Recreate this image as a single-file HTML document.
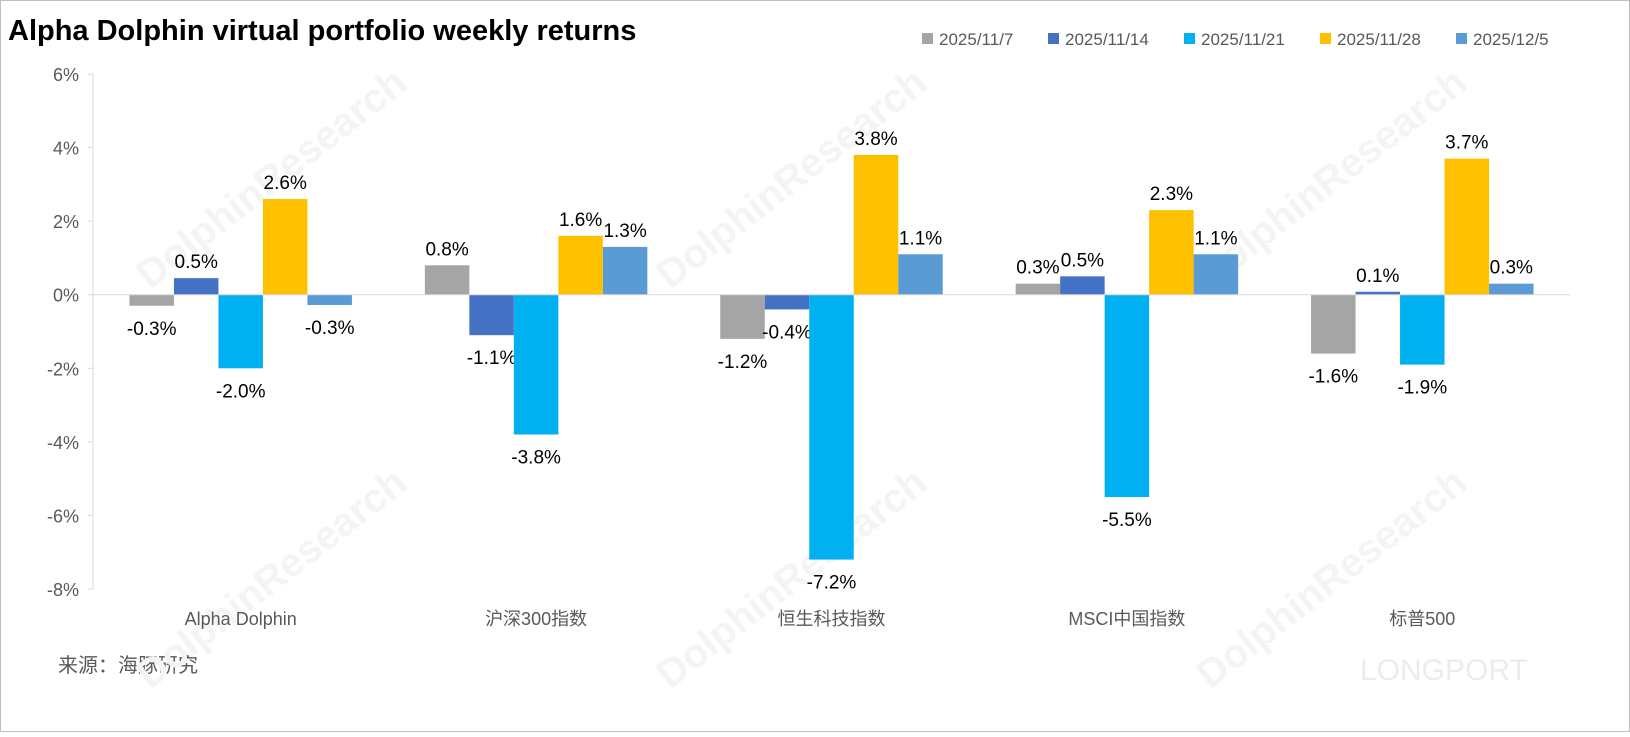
<!DOCTYPE html>
<html><head><meta charset="utf-8"><style>
body{margin:0;background:#fff;}
svg text{font-family:"Liberation Sans","Noto Sans CJK SC",sans-serif;}
</style></head><body>
<svg id="c" width="1630" height="732" xmlns="http://www.w3.org/2000/svg">
<rect x="0.5" y="0.5" width="1629" height="731" fill="#fff" stroke="#bfbfbf"/>
<text x="8" y="40" font-size="29" font-weight="bold" fill="#000">Alpha Dolphin virtual portfolio weekly returns</text>
<text x="58" y="672" font-size="20" fill="#595959">来源：海豚研究</text>
<text x="1360" y="680" font-size="30" fill="#ececec">LONGPORT</text>
<g id="wm" fill="#f4f4f4" font-size="40" font-weight="bold">
<text transform="translate(150,290) rotate(-38)">DolphinResearch</text>
<text transform="translate(670,290) rotate(-38)">DolphinResearch</text>
<text transform="translate(1210,290) rotate(-38)">DolphinResearch</text>
<text transform="translate(150,690) rotate(-38)">DolphinResearch</text>
<text transform="translate(670,690) rotate(-38)">DolphinResearch</text>
<text transform="translate(1210,690) rotate(-38)">DolphinResearch</text>
</g>
<g id="plot"></g>
</svg>
<script>
const categories=["Alpha Dolphin","沪深300指数","恒生科技指数","MSCI中国指数","标普500"];
const seriesNames=["2025/11/7","2025/11/14","2025/11/21","2025/11/28","2025/12/5"];
const s1=[-0.3,0.8,-1.2,0.3,-1.6];
const s2=[0.45,-1.1,-0.4,0.5,0.08];
const s3=[-2.0,-3.8,-7.2,-5.5,-1.9];
const s4=[2.6,1.6,3.8,2.3,3.7];
const s5=[-0.28,1.3,1.1,1.1,0.3];
const series=[s1,s2,s3,s4,s5];
const colors=["#a5a5a5","#4472c4","#00b0f0","#ffc000","#5b9bd5"];
const yTicks=[6,4,2,0,-2,-4,-6,-8];
const NS="http://www.w3.org/2000/svg";
const g=document.getElementById('plot');
const x0=93,x1=1570,yTop=74,yBot=589,vMax=6,vMin=-8;
const y=v=>yTop+(vMax-v)/(vMax-vMin)*(yBot-yTop);
const groupW=(x1-x0)/categories.length;
const barW=44.5;
const cx=i=>x0+groupW*(i+0.5);
function el(t,a,txt){const e=document.createElementNS(NS,t);for(const k in a)e.setAttribute(k,a[k]);if(txt!==undefined)e.textContent=txt;g.appendChild(e);return e;}
let a=el('line',{x1:x0,x2:x0,y1:yTop,y2:yBot,stroke:'#d9d9d9'});


yTicks.forEach(v=>{
 const t=el('text',{x:x0-14,y:y(v)+7,'font-size':18,fill:'#595959','text-anchor':'end'},v+'%');
 
 
 const tk=el('line',{x1:x0-5,x2:x0,y1:y(v),y2:y(v),stroke:'#d9d9d9'});
 
 
});
categories.forEach((c,i)=>{
 const t=el('text',{x:cx(i),y:625,'font-size':18,fill:'#595959','text-anchor':'middle'},c);
 
 
 series.forEach((s,j)=>{
  const v=s[i];const bx=cx(i)-2.5*barW+j*barW;
  const r=el('rect',{x:bx,y:Math.min(y(v),y(0)),width:barW,height:Math.abs(y(v)-y(0)),fill:colors[j]});
  
  
  const lbl=(Math.round(v*10)/10).toFixed(1)+'%';
  const ly=v>=0?y(v)-10:y(v)+29;
  const l=el('text',{x:bx+barW/2,y:ly,'font-size':19,fill:'#000','text-anchor':'middle'},lbl);
  
  
 });
});
const zl=el('line',{x1:x0,x2:x1,y1:y(0),y2:y(0),stroke:'#d9d9d9'});


const legX=[922,1048,1184,1320,1456];
seriesNames.forEach((n,j)=>{
 const r=el('rect',{x:legX[j],y:33,width:11,height:11,fill:colors[j]});
 
 
 const t=el('text',{x:legX[j]+17,y:45,'font-size':17,fill:'#595959'},n);
 
 
});
</script>
</body></html>
